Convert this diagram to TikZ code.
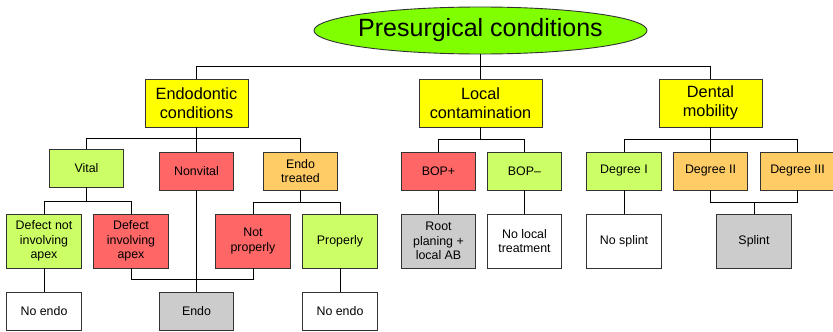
\documentclass[tikz,border=0pt]{standalone}
\usepackage{fontspec}
\setmainfont{Liberation Sans}
\usetikzlibrary{shapes.geometric}
\definecolor{cyel}{HTML}{FFFF00}
\definecolor{cgrn}{HTML}{80FF00}
\definecolor{clgr}{HTML}{CCFF66}
\definecolor{cred}{HTML}{FF6666}
\definecolor{corg}{HTML}{FFCC66}
\definecolor{cgry}{HTML}{CCCCCC}
\definecolor{cedge}{HTML}{333333}
\tikzset{
  box/.style={draw=cedge, line width=0.9pt, rectangle, inner sep=1pt, align=center, text=black},
  small/.style={box, minimum width=74.5pt, font=\fontsize{12.4}{14.5}\selectfont},
  midbox/.style={small, minimum height=38pt},
  tallbox/.style={small, minimum height=54pt},
  lowbox/.style={small, minimum height=38pt},
  big/.style={box, minimum height=48pt, font=\fontsize{16.3}{18.5}\selectfont},
  conn/.style={draw=black, line width=0.9pt},
}
\begin{document}
\begin{tikzpicture}[x=1pt,y=-1pt]
\useasboundingbox (0,0) rectangle (833,332);
% root
\node[ellipse, draw=cedge, line width=0.9pt, fill=cgrn, minimum width=333pt, minimum height=47pt, inner sep=0pt, font=\fontsize{25}{27}\selectfont] (root) at (480.5,30.5) {\makebox[0pt]{Presurgical conditions}};
% level 1
\node[big, fill=cyel, minimum width=103pt] (endo) at (196.5,103) {Endodontic\\conditions};
\node[big, fill=cyel, minimum width=123pt] (local) at (480.5,103) {Local\\contamination};
\node[big, fill=cyel, minimum width=103pt] (mob) at (710.5,103) {Dental\\mobility};
% level 2
\node[midbox, fill=clgr] (vital) at (86.5,168) {Vital};
\node[midbox, fill=cred] (nonvital) at (196.5,171) {Nonvital};
\node[midbox, fill=corg] (treated) at (300.5,171) {Endo\\treated};
\node[midbox, fill=cred] (bopp) at (438.5,171) {BOP+};
\node[midbox, fill=clgr] (bopm) at (524.5,171) {BOP--};
\node[midbox, fill=clgr] (d1) at (624,171) {Degree I};
\node[midbox, fill=corg] (d2) at (710.5,171) {Degree II};
\node[midbox, fill=corg] (d3) at (797.5,171) {Degree III};
% level 3
\node[tallbox, fill=clgr] (dnot) at (44,241) {Defect not\\involving\\apex};
\node[tallbox, fill=cred] (dinv) at (131,241) {Defect\\involving\\apex};
\node[tallbox, fill=cred] (notp) at (253,241) {Not\\properly};
\node[tallbox, fill=clgr] (prop) at (340,241) {Properly};
\node[tallbox, fill=cgry] (root2) at (438.5,241) {Root\\planing +\\local AB};
\node[tallbox, fill=white] (nolocal) at (524.5,241) {No local\\treatment};
\node[tallbox, fill=white] (nosplint) at (624,241) {No splint};
\node[tallbox, fill=cgry] (splint) at (754,241) {Splint};
% level 4
\node[lowbox, fill=white] (noendo1) at (44,311) {No endo};
\node[lowbox, fill=cgry] (endobox) at (196.5,311) {Endo};
\node[lowbox, fill=white] (noendo2) at (340,311) {No endo};
% connectors
\draw[conn] (root.south) -- (root.south |- 0,66);
\draw[conn] (endo.north) -- (endo.north |- 0,66) -- (mob.north |- 0,66) -- (mob.north);
\draw[conn] (local.north) -- (local.north |- 0,66);
\draw[conn] (vital.north) -- (vital.north |- 0,138) -- (treated.north |- 0,138) -- (treated.north);
\draw[conn] (endo.south) -- (nonvital.north);
\draw[conn] (bopp.north) -- (bopp.north |- 0,139) -- (bopm.north |- 0,139) -- (bopm.north);
\draw[conn] (local.south) -- (local.south |- 0,139);
\draw[conn] (d1.north) -- (d1.north |- 0,139) -- (d3.north |- 0,139) -- (d3.north);
\draw[conn] (mob.south) -- (d2.north);
\draw[conn] (dnot.north) -- (dnot.north |- 0,201) -- (dinv.north |- 0,201) -- (dinv.north);
\draw[conn] (vital.south) -- (vital.south |- 0,201);
\draw[conn] (notp.north) -- (notp.north |- 0,202) -- (prop.north |- 0,202) -- (prop.north);
\draw[conn] (treated.south) -- (treated.south |- 0,202);
\draw[conn] (bopp.south) -- (root2.north);
\draw[conn] (bopm.south) -- (nolocal.north);
\draw[conn] (d1.south) -- (nosplint.north);
\draw[conn] (d2.south) -- (d2.south |- 0,202) -- (d3.south |- 0,202) -- (d3.south);
\draw[conn] (splint.north) -- (splint.north |- 0,202);
\draw[conn] (dnot.south) -- (noendo1.north);
\draw[conn] (prop.south) -- (noendo2.north);
\draw[conn] (nonvital.south) -- (endobox.north);
\draw[conn] (dinv.south) -- (dinv.south |- 0,279) -- (notp.south |- 0,279) -- (notp.south);
\end{tikzpicture}
\end{document}
